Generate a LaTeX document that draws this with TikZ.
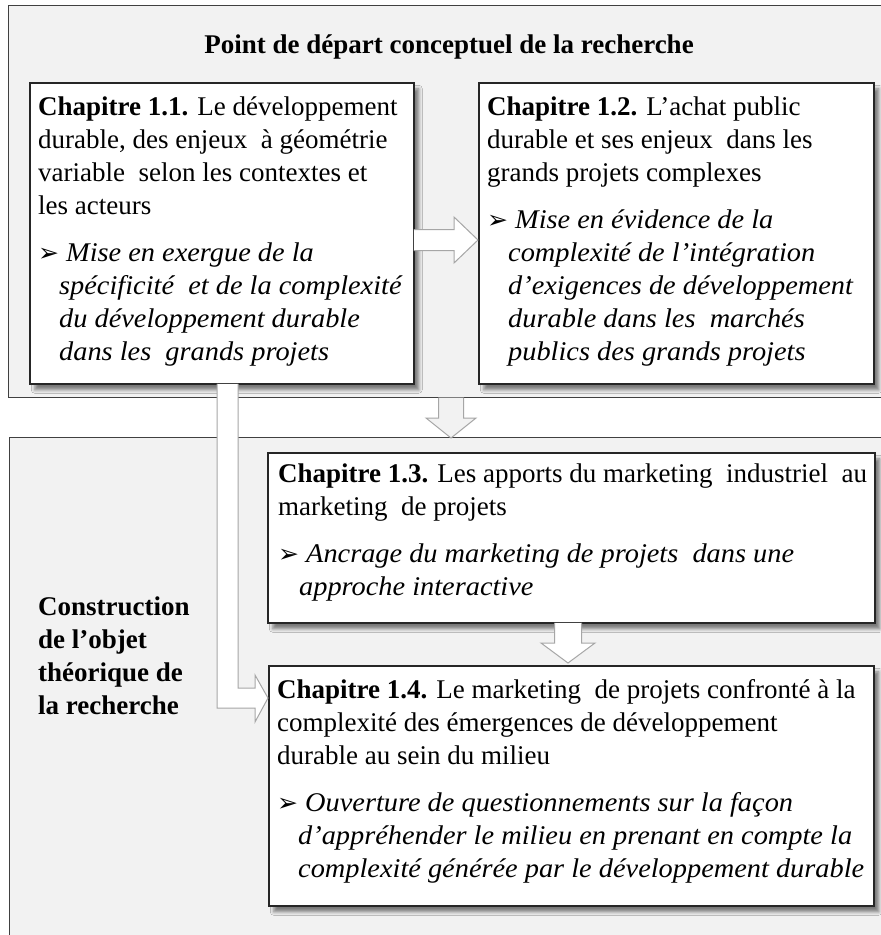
\documentclass[tikz,border=0pt]{standalone}
\usepackage{fontspec}
\setmainfont{Liberation Serif}[ItalicFeatures={FakeStretch=1.05}]
\newfontfamily\dejavu{DejaVu Sans}
\usetikzlibrary{shadows.blur,calc}
\definecolor{panelfill}{HTML}{F2F2F2}
\definecolor{panelline}{HTML}{404040}
\definecolor{arrowline}{HTML}{A6A6A6}
\newcommand\bul{\makebox[28pt][l]{\raisebox{0pt}{\dejavu\fontsize{25}{25}\selectfont ➢}}}
\newcommand\ind{\hspace*{21pt}}
\begin{document}
\begin{tikzpicture}[x=1pt,y=-1pt,
  panel/.style={draw=panelline, line width=1.3pt, fill=panelfill, anchor=north west, inner sep=0pt},
  chapbox/.style={draw=black!85, line width=1.5pt, fill=white, anchor=north west, inner sep=0pt,
    blur shadow={shadow xshift=5pt, shadow yshift=-6pt, shadow blur radius=3.5pt, shadow opacity=50}},
  txt/.style={anchor=base west, inner sep=0pt, font=\fontsize{27}{33}\selectfont},
  blkline/.style={draw=arrowline, line width=1pt, line join=miter}
]
\useasboundingbox (0,0) rectangle (881,935);
\clip (0,0) rectangle (881,935);
\fill[white] (0,0) rectangle (881,935);

% panels
\node[panel, minimum width=900pt, minimum height=392pt] (top) at (8,5) {};
\node[panel, minimum width=900pt, minimum height=520pt] (bottom) at (9,437) {};

% title and left label
\node[anchor=base, inner sep=0pt, font=\bfseries\fontsize{27}{33}\selectfont] (title) at (449,53)
  {Point de départ conceptuel de la recherche};
\node[txt] (label) at (38,615) {\parbox[t]{250pt}{\bfseries Construction\\ de l’objet\\ théorique de\\ la recherche}};

% chapter boxes
\node[chapbox, minimum width=384pt, minimum height=301pt] (b11) at (29,82) {};
\node[chapbox, minimum width=395pt, minimum height=301pt] (b12) at (478,82) {};
\node[chapbox, minimum width=607pt, minimum height=170pt] (b13) at (267,452) {};
\node[chapbox, minimum width=605pt, minimum height=240pt] (b14) at (268,665) {};

% box texts
\node[txt] (t11) at (38,115) {\parbox[t]{700pt}{\textbf{Chapitre 1.1.} Le développement\\
durable, des enjeux \ à géométrie\\
variable \ selon les contextes et\\
les acteurs\\[14pt]
\bul\textit{Mise en exergue de la}\\
\ind\textit{spécificité \ et de la complexité}\\
\ind\textit{du développement durable}\\
\ind\textit{dans les \ grands projets}}};

\node[txt] (t12) at (487,115) {\parbox[t]{700pt}{\textbf{Chapitre 1.2.} L’achat public\\
durable et ses enjeux \ dans les\\
grands projets complexes\\[14pt]
\bul\textit{Mise en évidence de la}\\
\ind\textit{complexité de l’intégration}\\
\ind\textit{d’exigences de développement}\\
\ind\textit{durable dans les \ marchés}\\
\ind\textit{publics des grands projets}}};

\node[txt] (t13) at (278,482) {\parbox[t]{700pt}{\textbf{Chapitre 1.3.} Les apports du marketing \ industriel \ au\\
marketing \ de projets\\[14pt]
\bul\textit{Ancrage du marketing de projets \ dans une}\\
\ind\textit{approche interactive}}};

\node[txt] (t14) at (277,698) {\parbox[t]{700pt}{\textbf{Chapitre 1.4.} Le marketing \ de projets confronté à la\\
complexité des émergences de développement\\
durable au sein du milieu\\[14pt]
\bul\textit{Ouverture de questionnements sur la façon}\\
\ind\textit{d’appréhender le milieu en prenant en compte la}\\
\ind\textit{complexité générée par le développement durable}}};

% block arrows
% 1.1 -> 1.2 (right)
\coordinate (r1s) at (413.8,240);
\coordinate (r1e) at (478,240);
\fill[white] ($(r1s)+(0,-10.5)$) -- ($(r1e)+(-24,-10.5)$) -- ($(r1e)+(-24,-23)$) -- (r1e) -- ($(r1e)+(-24,23)$) -- ($(r1e)+(-24,10.5)$) -- ($(r1s)+(0,10.5)$) -- cycle;
\draw[blkline] ($(r1s)+(0,-10.5)$) -- ($(r1e)+(-24,-10.5)$) -- ($(r1e)+(-24,-23)$) -- (r1e) -- ($(r1e)+(-24,23)$) -- ($(r1e)+(-24,10.5)$) -- ($(r1s)+(0,10.5)$);

% top panel -> bottom panel (down)
\coordinate (d1s) at (451,397.7);
\coordinate (d1e) at (451,438);
\fill[panelfill] ($(d1s)+(-12.5,0)$) -- ($(d1e)+(-12.5,-20)$) -- ($(d1e)+(-25,-20)$) -- (d1e) -- ($(d1e)+(25,-20)$) -- ($(d1e)+(12.5,-20)$) -- ($(d1s)+(12.5,0)$) -- cycle;
\draw[blkline] ($(d1s)+(-12.5,0)$) -- ($(d1e)+(-12.5,-20)$) -- ($(d1e)+(-25,-20)$) -- (d1e) -- ($(d1e)+(25,-20)$) -- ($(d1e)+(12.5,-20)$) -- ($(d1s)+(12.5,0)$);

% 1.3 -> 1.4 (down)
\coordinate (d2s) at (568,622.8);
\coordinate (d2e) at (568,663);
\fill[white] ($(d2s)+(-13.5,0)$) -- ($(d2e)+(-13.5,-20)$) -- ($(d2e)+(-27,-20)$) -- (d2e) -- ($(d2e)+(27,-20)$) -- ($(d2e)+(13.5,-20)$) -- ($(d2s)+(13.5,0)$) -- cycle;
\draw[blkline] ($(d2s)+(-13.5,0)$) -- ($(d2e)+(-13.5,-20)$) -- ($(d2e)+(-27,-20)$) -- (d2e) -- ($(d2e)+(27,-20)$) -- ($(d2e)+(13.5,-20)$) -- ($(d2s)+(13.5,0)$);

% 1.1 -> 1.4 (bent)
\coordinate (e1s) at (227.5,383.8);
\coordinate (e1e) at (268,698);
\fill[white] ($(e1s)+(-10.5,0)$) -- (217,708) -- (255,708) -- (255,722) -- (e1e) -- (255,675) -- (255,688) -- (238,688) -- ($(e1s)+(10.5,0)$) -- cycle;
\draw[blkline] ($(e1s)+(-10.5,0)$) -- (217,708) -- (255,708) -- (255,722) -- (e1e) -- (255,675) -- (255,688) -- (238,688) -- ($(e1s)+(10.5,0)$);
\end{tikzpicture}
\end{document}
